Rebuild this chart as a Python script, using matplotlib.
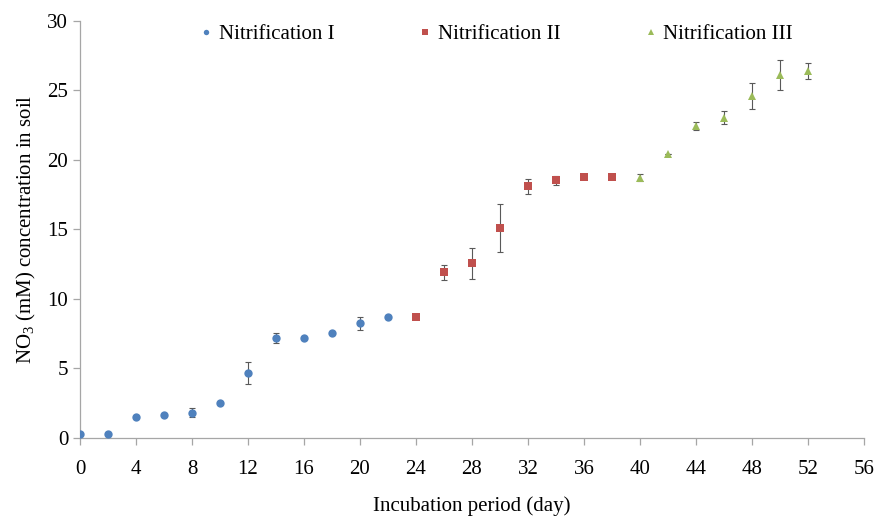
import numpy as np
import matplotlib
matplotlib.use("Agg")
import matplotlib.pyplot as plt

# -------------------------------
# Data
# -------------------------------
days_1 = [0, 2, 4, 6, 8, 10, 12, 14, 16, 18, 20, 22]
no3_1 = [0.30, 0.30, 1.53, 1.65, 1.82, 2.53, 4.67, 7.20, 7.20, 7.52, 8.23, 8.69]
err_1 = [0.0, 0.0, 0.0, 0.0, 0.33, 0.0, 0.79, 0.35, 0.0, 0.0, 0.45, 0.0]

days_2 = [24, 26, 28, 30, 32, 34, 36, 38]
no3_2 = [8.70, 11.90, 12.54, 15.07, 18.10, 18.52, 18.74, 18.74]
err_2 = [0.0, 0.54, 1.12, 1.73, 0.54, 0.32, 0.12, 0.12]

days_3 = [40, 42, 44, 46, 48, 50, 52]
no3_3 = [18.71, 20.39, 22.42, 23.02, 24.57, 26.08, 26.37]
err_3 = [0.25, 0.0, 0.27, 0.49, 0.93, 1.05, 0.59]

x_ticks = list(range(0, 57, 4))
y_ticks = [0, 5, 10, 15, 20, 25, 30]

# -------------------------------
# Style
# -------------------------------
plt.rcParams["font.family"] = ["Liberation Serif", "DejaVu Serif"]
plt.rcParams["mathtext.fontset"] = "custom"
plt.rcParams["mathtext.rm"] = "Liberation Serif"
plt.rcParams["mathtext.it"] = "Liberation Serif:italic"

axis_grey = "#a6a6a6"
err_grey = "#595959"
fs = 15

fig = plt.figure(figsize=(8.75, 5.16), dpi=100)
ax = fig.add_axes([80 / 875, (516 - 438) / 516, 784 / 875, 417.5 / 516])

series = [
    (days_1, no3_1, err_1, "o", "#4F81BD", 6, "Nitrification I"),
    (days_2, no3_2, err_2, "s", "#C0504D", 6, "Nitrification II"),
    (days_3, no3_3, err_3, "^", "#9BBB59", 6, "Nitrification III"),
]
for x, y, e, mk, col, ms, lab in series:
    ax.errorbar(x, y, yerr=e, fmt="none", ecolor=err_grey, elinewidth=0.8,
                capsize=2.2, capthick=0.8, zorder=2)
    ax.plot(x, y, linestyle="none", marker=mk, color=col, markersize=ms,
            markeredgewidth=0, label=lab, zorder=3)

ax.set_xlim(0, 56)
ax.set_ylim(0, 30)
ax.set_xticks(x_ticks)
ax.set_yticks(y_ticks)

for side in ["top", "right"]:
    ax.spines[side].set_visible(False)
for side in ["left", "bottom"]:
    ax.spines[side].set_color(axis_grey)
    ax.spines[side].set_linewidth(0.9)
ax.tick_params(axis="both", direction="out", length=5, width=0.9,
               color=axis_grey, labelsize=fs)
ax.tick_params(axis="y", pad=3.5)
ax.tick_params(axis="x", pad=10.5)

ax.set_xlabel("Incubation period (day)", fontsize=fs, labelpad=13)
ax.set_ylabel("NO$_3$ (mM) concentration in soil", fontsize=fs, labelpad=7)

leg = ax.legend(loc="upper center", bbox_to_anchor=(0.532, 1.035), ncol=3,
                frameon=False, fontsize=fs, handlelength=0.5,
                handletextpad=0.35, columnspacing=4.1, markerscale=0.65)

fig.savefig("out.png", dpi=100)
